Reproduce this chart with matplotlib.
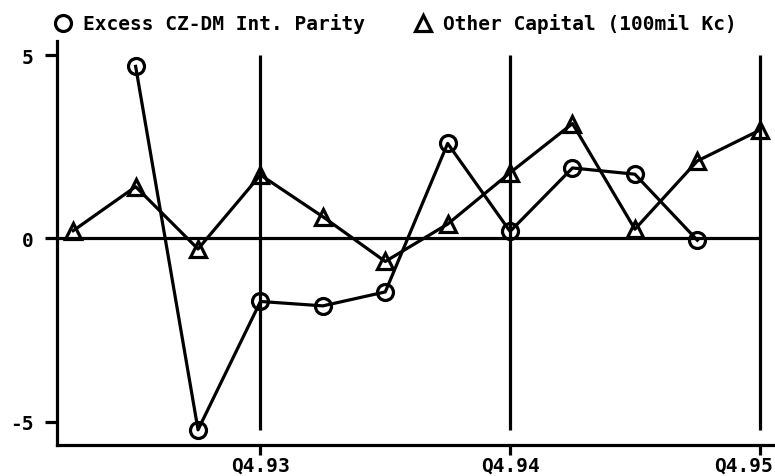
import numpy as np
import matplotlib
matplotlib.use("Agg")
import matplotlib.pyplot as plt
import matplotlib.transforms as mtransforms
from matplotlib.lines import Line2D

# quarterly data, Q1.93 .. Q4.95
quarters = ["Q1.93", "Q2.93", "Q3.93", "Q4.93", "Q1.94", "Q2.94", "Q3.94", "Q4.94",
            "Q1.95", "Q2.95", "Q3.95", "Q4.95"]
parity = [np.nan, 4.69, -5.22, -1.72, -1.84, -1.46, 2.59, 0.19, 1.92, 1.75, -0.05, np.nan]
other_capital = [0.21, 1.41, -0.29, 1.73, 0.59, -0.63, 0.39, 1.79, 3.13, 0.25, 2.11, 2.95]
tick_quarters = ["Q4.93", "Q4.94", "Q4.95"]
yticks = [-5, 0, 5]
labels = ["Excess CZ-DM Int. Parity", "Other Capital (100mil Kc)"]

plt.rcParams["font.family"] = ["DejaVu Sans Mono"]
plt.rcParams["font.weight"] = "bold"
FS = 14
LW = 2.3
MS = 11.5

fig = plt.figure(figsize=(7.75, 4.77), dpi=100)
ax = fig.add_axes([57 / 775, 1 - 445.5 / 477, 1 - 57 / 775, (445.5 - 41.7) / 477])

x = np.arange(len(quarters))
tick_pos = [quarters.index(q) for q in tick_quarters]

# reference lines
ymin = np.nanmin(np.r_[parity, other_capital])
ax.vlines(tick_pos, ymin, max(yticks), color="black", lw=LW, zorder=1)
ax.hlines(0, -1, x[-1], color="black", lw=LW, zorder=1)

ax.plot(x, parity, color="black", lw=LW, marker="o", ms=MS,
        mfc="none", mec="black", mew=LW, zorder=3)
ax.plot(x, other_capital, color="black", lw=LW, marker="^", ms=MS,
        mfc="none", mec="black", mew=LW, zorder=3)

ax.set_xlim(-0.26, (775 - 73.3) / 62.4)
ax.set_ylim(-5.62, 5.39)
ax.set_xticks(tick_pos)
ax.set_xticklabels(tick_quarters)
ax.set_yticks(yticks)
ax.set_yticklabels([str(v) for v in yticks])

for side in ["top", "right"]:
    ax.spines[side].set_visible(False)
for side in ["left", "bottom"]:
    ax.spines[side].set_linewidth(LW)
ax.tick_params(axis="y", length=9, width=LW, pad=8, labelsize=FS)
ax.tick_params(axis="x", length=7.2, width=LW, pad=0.5, labelsize=FS)

# last x label pushed left to stay inside the figure
last = ax.get_xticklabels()[-1]
last.set_horizontalalignment("right")
last.set_transform(last.get_transform() + mtransforms.ScaledTranslation(13 / 100, 0, fig.dpi_scale_trans))

# legend across the top
leg_y = 1 - 24 / 477
for mk, mx, tx, lab in [("o", 63, 83, labels[0]), ("^", 423, 443, labels[1])]:
    fig.add_artist(Line2D([mx / 775], [leg_y], marker=mk, ms=MS, mfc="none",
                          mec="black", mew=LW, ls="none", transform=fig.transFigure))
    fig.text(tx / 775, leg_y, lab, fontsize=FS, fontweight="bold", va="center", ha="left")

fig.savefig("out.png", dpi=100)
